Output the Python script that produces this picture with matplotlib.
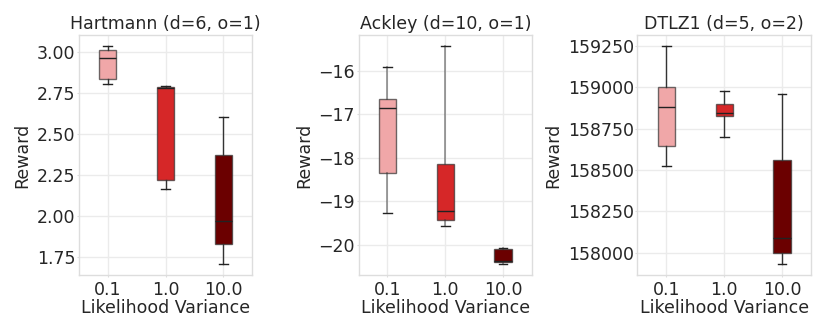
import numpy as np
import matplotlib
matplotlib.use("Agg")
import matplotlib.pyplot as plt

# box stats: (whisker low, q1, median, q3, whisker high)
variances = ["0.1", "1.0", "10.0"]
colors = ["#F0A7A8", "#D62728", "#6B0000"]

hartmann_lo = [2.806, 2.163, 1.703]
hartmann_q1 = [2.837, 2.220, 1.828]
hartmann_med = [2.966, 2.784, 1.969]
hartmann_q3 = [3.017, 2.786, 2.375]
hartmann_hi = [3.039, 2.796, 2.604]

ackley_lo = [-19.26, -19.56, -20.44]
ackley_q1 = [-18.35, -19.43, -20.40]
ackley_med = [-16.86, -19.23, -20.38]
ackley_q3 = [-16.65, -18.15, -20.09]
ackley_hi = [-15.90, -15.43, -20.07]

dtlz_lo = [158527, 158700, 157934]
dtlz_q1 = [158645, 158828, 158000]
dtlz_med = [158878, 158842, 158092]
dtlz_q3 = [159003, 158896, 158561]
dtlz_hi = [159248, 158978, 158962]

panels = [
    ("Hartmann (d=6, o=1)", hartmann_lo, hartmann_q1, hartmann_med, hartmann_q3, hartmann_hi,
     (1.638, 3.108), [1.75, 2.00, 2.25, 2.50, 2.75, 3.00], "{:.2f}"),
    ("Ackley (d=10, o=1)", ackley_lo, ackley_q1, ackley_med, ackley_q3, ackley_hi,
     (-20.69, -15.17), [-20, -19, -18, -17, -16], "\u2212{:.0f}"),
    ("DTLZ1 (d=5, o=2)", dtlz_lo, dtlz_q1, dtlz_med, dtlz_q3, dtlz_hi,
     (157867, 159316), [158000, 158250, 158500, 158750, 159000, 159250], "{:.0f}"),
]

txt = "#262626"
fs = 12.5
plt.rcParams['font.family'] = ['DejaVu Sans']
plt.rcParams['font.size'] = fs

fig = plt.figure(figsize=(8.3, 3.32), dpi=100)
lefts = [0.095, 0.432, 0.768]
width = 0.209
bottom, height = 0.172, 0.723

for i, (title, lo, q1, med, q3, hi, ylim, ticks, fmt) in enumerate(panels):
    ax = fig.add_axes([lefts[i], bottom, width, height])
    stats = []
    for j in range(3):
        stats.append(dict(whislo=lo[j], q1=q1[j], med=med[j], q3=q3[j], whishi=hi[j], fliers=[]))
    wcol = (0.2, 0.2, 0.2, 0.55) if i == 1 else "#333333"
    bp = ax.bxp(stats, positions=np.arange(3), widths=0.3, patch_artist=True, showfliers=False,
                boxprops=dict(edgecolor=(0.2, 0.2, 0.2, 0.7), linewidth=1.0),
                medianprops=dict(color="#222222", linewidth=1.0),
                whiskerprops=dict(color=wcol, linewidth=1.2 if i == 1 else 1.0),
                capprops=dict(color="#222222", linewidth=1.0))
    for patch, c in zip(bp['boxes'], colors):
        patch.set_facecolor(c)
    ax.set_xlim(-0.5, 2.5)
    ax.set_ylim(*ylim)
    ax.set_yticks(ticks)
    ax.set_yticklabels([fmt.format(abs(t)) if i == 1 else fmt.format(t) for t in ticks])
    ax.set_xticks(np.arange(3))
    ax.set_xticklabels(variances)
    ax.grid(True, color="#EBEBEB", linewidth=1.0)
    ax.set_axisbelow(True)
    for s in ax.spines.values():
        s.set_color("#DDDDDD")
        s.set_linewidth(1.0)
    ax.tick_params(length=1.5, color="#DDDDDD", labelcolor=txt, labelsize=fs)
    ax.tick_params(axis='x', pad=3)
    ax.tick_params(axis='y', pad=1)
    ax.set_title(title, color=txt, fontsize=fs, pad=4)
    ax.set_xlabel("Likelihood Variance", color=txt, fontsize=fs, labelpad=0)
    ax.set_ylabel("Reward", color=txt, fontsize=fs, labelpad=4)

fig.savefig("out.png", dpi=100)
